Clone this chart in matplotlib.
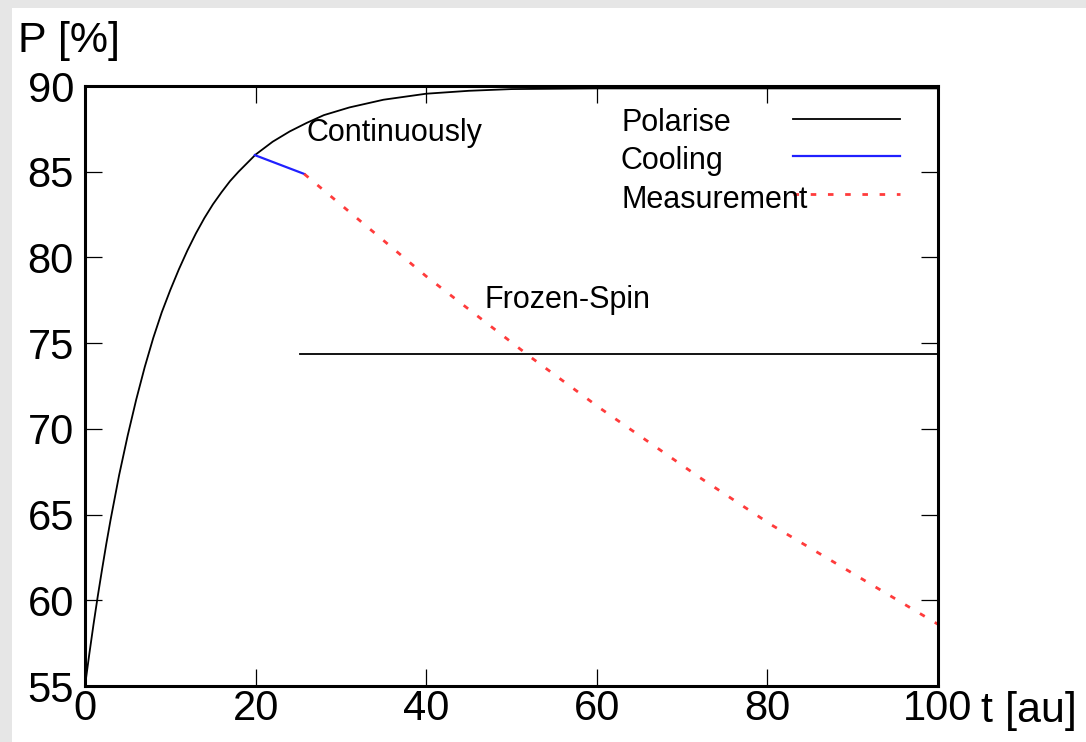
import matplotlib
matplotlib.use("Agg")
import matplotlib.pyplot as plt
from matplotlib.patches import Rectangle
from matplotlib.lines import Line2D

plt.rcParams['font.family'] = ['Liberation Sans', 'DejaVu Sans']

# polarisation build-up
pol_t = [0, 0.5, 1, 1.5, 2, 2.5, 3, 3.5, 4, 5, 6, 7, 8, 9, 10, 11, 12, 13, 14,
         15, 16, 17, 18, 19, 20, 22, 24, 26, 28, 31, 35, 40, 45, 50, 60, 70,
         80, 90, 100]
pol_p = [55.0, 56.85, 58.6, 60.25, 61.8, 63.3, 64.7, 66.0, 67.3, 69.6, 71.7,
         73.6, 75.3, 76.8, 78.1, 79.3, 80.4, 81.4, 82.3, 83.1, 83.8, 84.45,
         85.0, 85.5, 86.0, 86.75, 87.35, 87.85, 88.3, 88.75, 89.2, 89.55,
         89.72, 89.82, 89.86, 89.86, 89.86, 89.86, 89.86]

cool_t = [19.9, 25.7]
cool_p = [85.97, 84.87]

meas_t = [25.7, 40, 52.2, 60.4, 72.1, 80.5, 100]
meas_p = [84.87, 78.9, 74.2, 71.2, 67.15, 64.39, 58.6]

frozen_t = [25.2, 100]
frozen_p = [74.35, 74.35]

xticks = [0, 20, 40, 60, 80, 100]
yticks = [55, 60, 65, 70, 75, 80, 85, 90]

labels = ['Polarise', 'Cooling', 'Measurement']
colors = ['black', '#2020ff', '#ff3b3b']

W, H = 1086, 742
fig = plt.figure(figsize=(W / 100, H / 100), dpi=100)
fig.patch.set_facecolor('#e6e6e6')
fig.patches.append(Rectangle((12 / W, 0), 1, 1 - 8 / H, transform=fig.transFigure,
                             facecolor='white', edgecolor='none', zorder=-1))

ax = fig.add_axes([85 / W, 1 - 686 / H, 853 / W, 600 / H])

dash = (0, (2, 4.2))
ax.plot(pol_t, pol_p, color=colors[0], lw=1.3)
ax.plot(cool_t, cool_p, color=colors[1], lw=1.6)
ax.plot(meas_t, meas_p, color=colors[2], lw=2.0, ls=dash)
ax.plot(frozen_t, frozen_p, color='black', lw=1.3)

ax.text(36.3, 87.26, 'Continuously', fontsize=22, ha='center', va='center')
ax.text(56.6, 77.5, 'Frozen-Spin', fontsize=22, ha='center', va='center')

ax.set_xlim(0, 100)
ax.set_ylim(55, 90)
ax.set_xticks(xticks)
ax.set_yticks(yticks)
ax.tick_params(direction='in', length=12.5, width=0.9, top=True, right=True,
               labelsize=30)
ax.tick_params(axis='y', pad=8)
ax.tick_params(axis='x', pad=2)
for s in ax.spines.values():
    s.set_linewidth(2.2)

# legend: text left, sample line right
text_y = [123, 161, 200]
line_y = [119, 156, 194]
styles = ['-', '-', dash]
widths = [1.3, 1.6, 2.0]
for lab, c, ty, ly, st, lw in zip(labels, colors, text_y, line_y, styles, widths):
    fig.text(621 / W, 1 - ty / H, lab, fontsize=22, va='center')
    fig.lines.append(Line2D([793 / W, 900 / W], [1 - ly / H, 1 - ly / H],
                            transform=fig.transFigure, color=c, lw=lw, ls=st))

fig.text(18 / W, 1 - 52 / H, 'P [%]', fontsize=31, va='baseline')
fig.text(981 / W, 1 - 722 / H, 't [au]', fontsize=31, va='baseline')

fig.savefig('out.png', dpi=100, facecolor=fig.get_facecolor())
